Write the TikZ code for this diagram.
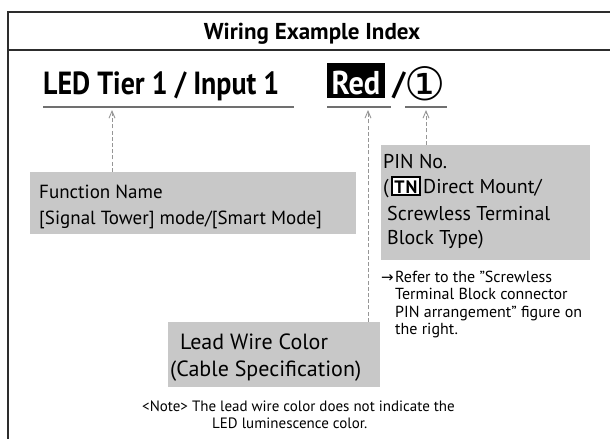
\documentclass[tikz,border=0pt]{standalone}
\usepackage{fontspec}
\setmainfont{PT Sans}
\newfontfamily\symfont{DejaVu Sans}
\usetikzlibrary{arrows.meta}
\definecolor{boxgray}{RGB}{200,200,200}
\definecolor{ulgray}{RGB}{112,112,112}
\definecolor{dgray}{RGB}{150,150,150}
\definecolor{framec}{RGB}{45,45,45}
\tikzset{
  frameline/.style={draw=framec,line width=1.4pt},
  uline/.style={draw=ulgray,line width=2.4pt},
  darr/.style={draw=dgray,line width=0.9pt,dash pattern=on 4pt off 2.2pt,-{Straight Barb[length=7pt,width=6pt,line width=0.9pt]}},
  graybox/.style={fill=boxgray,draw=none,inner sep=0pt},
  txt/.style={inner sep=0pt,anchor=base west},
}
\begin{document}
\begin{tikzpicture}[x=1pt,y=-1pt]
\useasboundingbox (0,0) rectangle (610,439);
% frame
\draw[frameline] (610,12) -- (8,12) -- (8,439);
\draw[frameline] (8,50) -- (610,50);
\node[inner sep=0pt,anchor=base] (title) at (312,39) {\fontsize{23}{26}\selectfont\bfseries Wiring Example Index};
% main line
\node[txt] (led) at (43,94) {\scalebox{0.874}[1]{\fontsize{32}{36}\selectfont\bfseries LED Tier 1 / Input 1}};
\node[fill=black,inner sep=0pt,minimum width=58pt,minimum height=35pt] (red) at (356,80.5) {};
\node[inner sep=0pt,anchor=base,text=white] (redt) at (356,94) {\scalebox{0.92}[1]{\fontsize{33}{36}\selectfont\bfseries Red}};
\node[inner sep=0pt,anchor=base] (slash) at (399,94) {\fontsize{32}{36}\selectfont\bfseries /};
\node[inner sep=0pt,anchor=center] (circ) at (425,84) {\fontsize{46}{50}\selectfont\symfont ①};
% underlines
\coordinate (u1a) at (43,107); \coordinate (u1b) at (294,107);
\coordinate (u2a) at (327,107); \coordinate (u2b) at (391,107);
\coordinate (u3a) at (405,107); \coordinate (u3b) at (447,107);
\draw[uline] (u1a) -- (u1b);
\draw[uline] (u2a) -- (u2b);
\draw[uline] (u3a) -- (u3b);
\coordinate (t1) at (112,110);
\coordinate (t2) at (368,110);
\coordinate (t3) at (426,110);
% function box
\node[graybox,minimum width=326pt,minimum height=62pt] (fnbox) at (193,203) {};
\node[txt] (fn1) at (39,198) {\fontsize{19}{22}\selectfont Function Name};
\node[txt] (fn2) at (39,224) {\fontsize{19}{22}\selectfont [Signal Tower] mode/[Smart Mode]};
% pin box
\node[graybox,minimum width=209pt,minimum height=115pt] (pinbox) at (485.5,202.5) {};
\node[txt] (p1) at (383,168) {\fontsize{20}{24}\selectfont PIN No.};
\node[txt] (p2a) at (383,193) {\fontsize{20}{24}\selectfont (};
\node[fill=white,draw=black,line width=1.2pt,inner sep=0pt,minimum width=28pt,minimum height=18pt] (tn) at (406,186) {};
\node[inner sep=0pt,anchor=base] (tnt) at (406,193) {\fontsize{18}{22}\selectfont\bfseries T\kern1pt N};
\node[txt] (p2b) at (423,193) {\fontsize{20}{24}\selectfont Direct Mount/};
\node[txt] (p3) at (387,220) {\fontsize{20}{24}\selectfont Screwless Terminal};
\node[txt] (p4) at (387,244) {\fontsize{20}{24}\selectfont Block Type)};
% refer note
\node[txt] (r0) at (381,282) {\fontsize{15}{17}\selectfont\symfont →};
\node[txt] (r1) at (395,282) {\fontsize{16}{18}\selectfont Refer to the "Screwless};
\node[txt] (r2) at (395,299.5) {\fontsize{16}{18}\selectfont Terminal Block connector};
\node[txt] (r3) at (395,317) {\fontsize{16}{18}\selectfont PIN arrangement” figure on};
\node[txt] (r4) at (395,334.5) {\fontsize{16}{18}\selectfont the right.};
% lead box
\node[graybox,minimum width=212pt,minimum height=65pt] (leadbox) at (274,354.5) {};
\node[txt] (l1) at (180,349) {\fontsize{22}{26}\selectfont Lead Wire Color};
\node[txt] (l2) at (170,376) {\fontsize{22}{26}\selectfont (Cable Specification)};
% bottom note
\node[txt] (n1) at (142,411) {\fontsize{15}{17}\selectfont <Note> The lead wire color does not indicate the};
\node[txt] (n2) at (212,428) {\fontsize{15}{17}\selectfont LED luminescence color.};
% arrows
\draw[darr] (fnbox.north -| t1) -- (t1);
\draw[darr] (leadbox.north -| t2) -- (t2);
\draw[darr] (pinbox.north -| t3) -- (t3);
\end{tikzpicture}
\end{document}
